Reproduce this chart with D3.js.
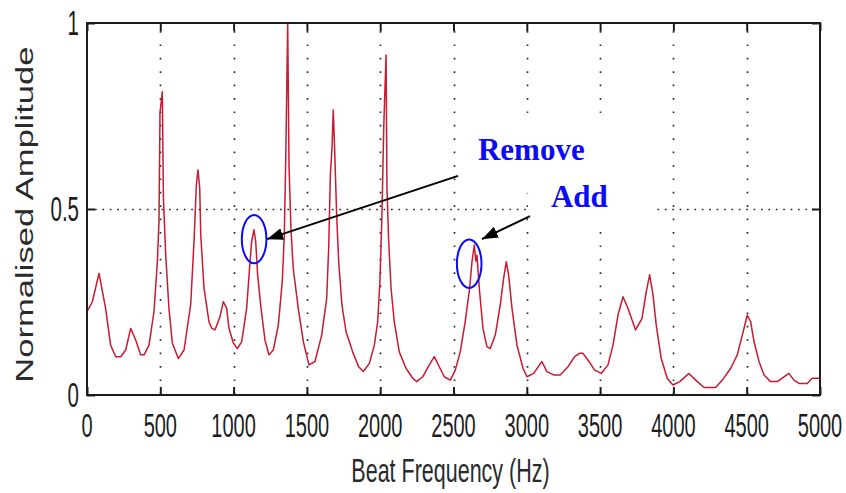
<!DOCTYPE html>
<html>
<head>
<meta charset="utf-8">
<script src="https://cdn.jsdelivr.net/npm/d3@7"></script>
<style>
  html, body { margin: 0; padding: 0; background: #ffffff; }
  svg { display: block; }
</style>
</head>
<body>
<svg id="chart" width="846" height="493"></svg>
<script>
// Beat-frequency spectrum (Hz) and its normalised amplitude
const freqHz = [
  0, 36, 82, 127, 161, 196, 230, 264, 298, 332, 366, 389, 423, 457, 480, 491, 498, 514, 521, 537,
  559, 582, 623, 662, 707, 730, 746, 757, 769, 776, 798, 832, 850, 873, 907, 930, 953, 968, 998, 1025,
  1055, 1089, 1112, 1123, 1139, 1151, 1164, 1187, 1214, 1241, 1271, 1305, 1332, 1346, 1357, 1369, 1378, 1391, 1407, 1441,
  1476, 1514, 1555, 1601, 1635, 1649, 1660, 1671, 1680, 1689, 1703, 1717, 1739, 1767, 1812, 1853, 1885, 1926, 1960, 1983,
  1998, 2012, 2024, 2040, 2046, 2058, 2074, 2096, 2130, 2176, 2222, 2249, 2290, 2335, 2369, 2403, 2437, 2478, 2512, 2546,
  2580, 2610, 2626, 2642, 2652, 2660, 2678, 2701, 2728, 2751, 2785, 2819, 2842, 2860, 2876, 2899, 2933, 2974, 3001, 3047,
  3103, 3137, 3183, 3228, 3281, 3326, 3360, 3383, 3417, 3463, 3508, 3554, 3588, 3622, 3656, 3690, 3742, 3786, 3815, 3838,
  3861, 3883, 3917, 3958, 3997, 4043, 4106, 4163, 4209, 4288, 4334, 4391, 4436, 4470, 4504, 4527, 4550, 4584, 4618, 4663,
  4709, 4754, 4788, 4822, 4857, 4913, 4947, 5000
];
const amplitude = [
  0.224, 0.250, 0.327, 0.233, 0.134, 0.103, 0.103, 0.121, 0.179, 0.148, 0.108, 0.108, 0.134, 0.224, 0.358, 0.466, 0.760, 0.815, 0.533, 0.376,
  0.233, 0.140, 0.098, 0.121, 0.242, 0.412, 0.565, 0.605, 0.555, 0.430, 0.288, 0.197, 0.180, 0.175, 0.210, 0.251, 0.233, 0.180, 0.140, 0.125,
  0.143, 0.233, 0.358, 0.412, 0.444, 0.412, 0.323, 0.233, 0.148, 0.108, 0.121, 0.188, 0.305, 0.430, 0.663, 1.000, 0.618, 0.448, 0.340, 0.233,
  0.143, 0.081, 0.090, 0.161, 0.260, 0.400, 0.591, 0.663, 0.766, 0.663, 0.484, 0.358, 0.242, 0.170, 0.116, 0.076, 0.063, 0.085, 0.134, 0.197,
  0.305, 0.484, 0.717, 0.914, 0.560, 0.412, 0.287, 0.197, 0.116, 0.072, 0.045, 0.036, 0.049, 0.081, 0.103, 0.076, 0.049, 0.040, 0.067, 0.116,
  0.197, 0.287, 0.358, 0.403, 0.360, 0.376, 0.278, 0.179, 0.130, 0.125, 0.161, 0.242, 0.314, 0.358, 0.323, 0.233, 0.134, 0.072, 0.049, 0.058,
  0.090, 0.063, 0.054, 0.054, 0.076, 0.103, 0.112, 0.112, 0.094, 0.067, 0.058, 0.081, 0.134, 0.215, 0.264, 0.233, 0.175, 0.206, 0.278, 0.323,
  0.269, 0.188, 0.098, 0.045, 0.027, 0.036, 0.058, 0.036, 0.020, 0.020, 0.040, 0.072, 0.108, 0.161, 0.215, 0.197, 0.143, 0.090, 0.054, 0.036,
  0.036, 0.049, 0.058, 0.040, 0.031, 0.031, 0.045, 0.045
];

const xTicks = [0, 500, 1000, 1500, 2000, 2500, 3000, 3500, 4000, 4500, 5000];
const xTickLabels = ["0", "500", "1000", "1500", "2000", "2500", "3000", "3500", "4000", "4500", "5000"];
const yTicks = [0, 0.5, 1];
const yTickLabels = ["0", "0.5", "1"];
const xTitle = "Beat Frequency (Hz)";
const yTitle = "Normalised Amplitude";

// Circled peaks (centre in data units)
const circledFreq = [1140, 2607];
const circledAmp = [0.419, 0.353];

// Callouts: label, label anchor, arrow start and arrow tip (data units)
const calloutLabels = ["Remove", "Add"];
const calloutLabelFreq = [2667, 3165];
const calloutLabelAmp = [0.632, 0.505];
const arrowFromFreq = [2531, 3022];
const arrowFromAmp = [0.589, 0.481];
const arrowToFreq = [1228, 2694];
const arrowToAmp = [0.419, 0.419];

// ---- layout ----
const W = 846, H = 493;
const plot = { left: 87, right: 820, top: 23, bottom: 395 };

const svg = d3.select("#chart");
svg.append("rect").attr("width", W).attr("height", H).attr("fill", "#ffffff");

const x = d3.scaleLinear().domain([0, 5000]).range([plot.left, plot.right]);
const y = d3.scaleLinear().domain([0, 1]).range([plot.bottom, plot.top]);

const ink = "#1c1c1c";

// ---- dotted grid ----
const grid = svg.append("g").attr("class", "grid")
  .attr("stroke", "#2a2a2a").attr("stroke-width", 1.7).attr("fill", "none");
grid.selectAll("line.v")
  .data(xTicks.filter(d => d > 0 && d < 5000))
  .join("line").attr("class", "v")
  .attr("x1", d => Math.round(x(d)) + 0.5).attr("x2", d => Math.round(x(d)) + 0.5)
  .attr("y1", y(1) + 8).attr("y2", y(0))
  .attr("stroke-dasharray", "1.7,11.7");
grid.selectAll("line.h")
  .data(yTicks.filter(d => d > 0 && d < 1))
  .join("line").attr("class", "h")
  .attr("x1", x(0) + 8).attr("x2", x(5000))
  .attr("y1", d => Math.round(y(d)) + 0.5).attr("y2", d => Math.round(y(d)) + 0.5)
  .attr("stroke-dasharray", "1.7,5.7");

// White panels behind the callout text
const panelW = [183, 124], panelH = [80, 30], panelDx = [-16, -23], panelDy = [-47, -14];
svg.append("g").selectAll("rect")
  .data(calloutLabels.map((d, i) => i))
  .join("rect")
  .attr("x", i => x(calloutLabelFreq[i]) + panelDx[i])
  .attr("y", i => y(calloutLabelAmp[i]) + panelDy[i])
  .attr("width", i => panelW[i]).attr("height", i => panelH[i])
  .attr("fill", "#ffffff");

// ---- spectrum trace ----
const points = freqHz.map((f, i) => [f, amplitude[i]]);
svg.append("path")
  .datum(points)
  .attr("fill", "none")
  .attr("stroke", "#c81a30")
  .attr("stroke-width", 1.5)
  .attr("stroke-linejoin", "round")
  .attr("d", d3.line().x(d => x(d[0])).y(d => y(d[1])));

// ---- axes box and inward ticks ----
svg.append("rect")
  .attr("x", plot.left).attr("y", plot.top)
  .attr("width", plot.right - plot.left).attr("height", plot.bottom - plot.top)
  .attr("fill", "none").attr("stroke", ink).attr("stroke-width", 2);

const tickLen = 8;
function styleAxis(g) {
  g.select(".domain").remove();
  g.selectAll("text").remove();
  g.selectAll(".tick line").attr("stroke", ink).attr("stroke-width", 2);
}
svg.append("g").attr("transform", `translate(0,${plot.bottom})`)
  .call(d3.axisBottom(x).tickValues(xTicks).tickSizeInner(-tickLen).tickSizeOuter(0)).call(styleAxis);
svg.append("g").attr("transform", `translate(0,${plot.top})`)
  .call(d3.axisTop(x).tickValues(xTicks).tickSizeInner(-tickLen).tickSizeOuter(0)).call(styleAxis);
svg.append("g").attr("transform", `translate(${plot.left},0)`)
  .call(d3.axisLeft(y).tickValues(yTicks).tickSizeInner(-tickLen).tickSizeOuter(0)).call(styleAxis);
svg.append("g").attr("transform", `translate(${plot.right},0)`)
  .call(d3.axisRight(y).tickValues(yTicks).tickSizeInner(-tickLen).tickSizeOuter(0)).call(styleAxis);

// ---- tick labels (tall, narrow glyphs) ----
const labelFont = "'Liberation Sans', Arial, Helvetica, sans-serif";
svg.append("g").selectAll("text")
  .data(xTicks)
  .join("text")
  .attr("transform", d => `translate(${x(d)},437) scale(1,1.68)`)
  .attr("text-anchor", "middle")
  .attr("font-family", labelFont).attr("font-size", 20)
  .attr("fill", ink)
  .text((d, i) => xTickLabels[i]);

svg.append("g").selectAll("text")
  .data(yTicks)
  .join("text")
  .attr("transform", d => `translate(79,${y(d) + 12}) scale(1,1.7)`)
  .attr("text-anchor", "end")
  .attr("font-family", labelFont).attr("font-size", 20.5)
  .attr("fill", ink)
  .text((d, i) => yTickLabels[i]);

// ---- axis titles ----
svg.append("text")
  .attr("transform", `translate(${x(2500) - 3},482) scale(1,1.55)`)
  .attr("text-anchor", "middle")
  .attr("font-family", labelFont).attr("font-size", 21.5)
  .attr("fill", "#2a2a2a")
  .text(xTitle);

svg.append("text")
  .attr("transform", `translate(33,${y(0.485)}) rotate(-90) scale(1.44,1)`)
  .attr("text-anchor", "middle")
  .attr("font-family", labelFont).attr("font-size", 24)
  .attr("fill", "#2a2a2a")
  .text(yTitle);

// ---- circled peaks ----
const blue = "#0b0bf5";
svg.append("g").selectAll("ellipse")
  .data(circledFreq.map((f, i) => [f, circledAmp[i]]))
  .join("ellipse")
  .attr("cx", d => x(d[0])).attr("cy", d => y(d[1]))
  .attr("rx", 12.3).attr("ry", 24.2)
  .attr("fill", "none").attr("stroke", blue).attr("stroke-width", 2);

// ---- arrows ----
svg.append("defs").append("marker")
  .attr("id", "head")
  .attr("markerUnits", "userSpaceOnUse")
  .attr("viewBox", "0 0 16 12")
  .attr("markerWidth", 16).attr("markerHeight", 12)
  .attr("refX", 16).attr("refY", 6)
  .attr("orient", "auto")
  .append("path").attr("d", "M0,0 L16,6 L0,12 Z").attr("fill", "#000");

svg.append("g").selectAll("line")
  .data(arrowFromFreq.map((f, i) => i))
  .join("line")
  .attr("x1", i => x(arrowFromFreq[i])).attr("y1", i => y(arrowFromAmp[i]))
  .attr("x2", i => x(arrowToFreq[i])).attr("y2", i => y(arrowToAmp[i]))
  .attr("stroke", "#000").attr("stroke-width", 2)
  .attr("marker-end", "url(#head)");

// ---- callout labels ----
svg.append("g").selectAll("text")
  .data(calloutLabels)
  .join("text")
  .attr("x", (d, i) => x(calloutLabelFreq[i]))
  .attr("y", (d, i) => y(calloutLabelAmp[i]))
  .attr("font-family", "'Liberation Serif', 'Times New Roman', serif")
  .attr("font-weight", "bold").attr("font-size", 31)
  .attr("fill", blue)
  .text(d => d);
</script>
</body>
</html>
